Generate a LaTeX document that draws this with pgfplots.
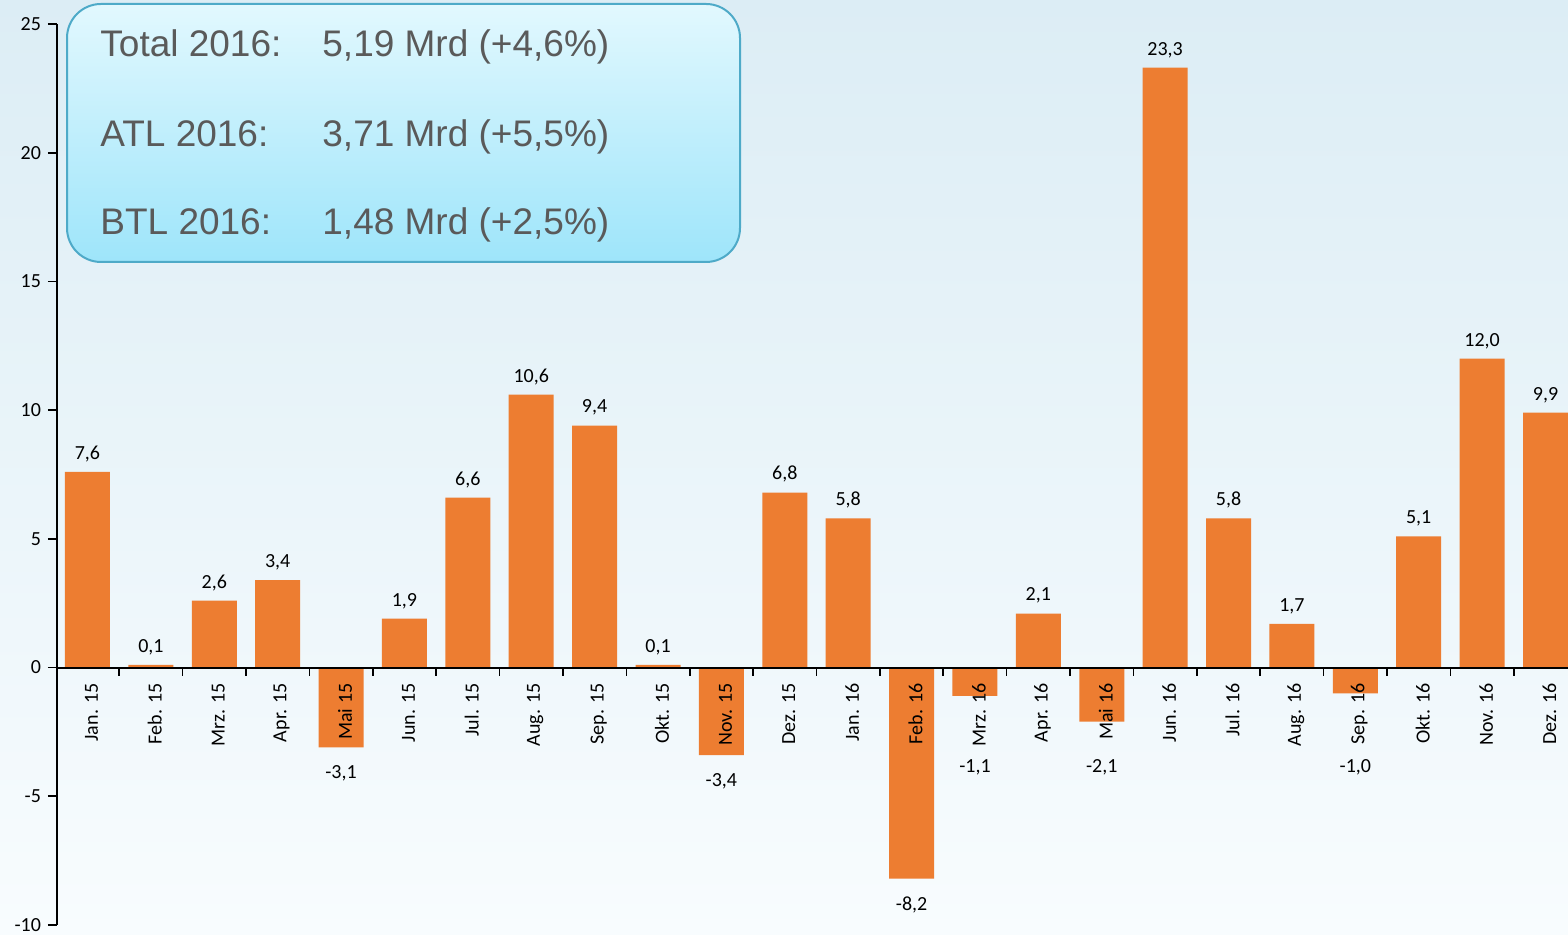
\documentclass[border=0pt]{standalone}
\usepackage{pgfplots}
\pgfplotsset{compat=1.18}
\usepackage{fontspec}
\setmainfont{Carlito}
\newfontfamily\boxfont{Liberation Sans}
\definecolor{barorange}{RGB}{237,125,49}
\definecolor{bgtop}{RGB}{220,237,245}
\definecolor{bgbot}{RGB}{248,252,254}
\definecolor{boxtop}{RGB}{226,248,254}
\definecolor{boxbot}{RGB}{158,229,250}
\definecolor{boxedge}{RGB}{78,170,200}
\definecolor{boxtext}{RGB}{90,90,90}
\begin{document}
\begin{tikzpicture}
\useasboundingbox (-28.5pt,-5pt) rectangle (755.5pt,462.5pt);
\shade[top color=bgtop, bottom color=bgbot] (-28.5pt,-5pt) rectangle (755.5pt,462.5pt);
\begin{axis}[
  at={(0,0)}, anchor=south west,
  scale only axis, width=755.5pt, height=450.5pt,
  xmin=-0.481, xmax=23.355, ymin=-10, ymax=25,
  axis y line=left, axis x line=middle,
  axis line style={-, line width=1pt, black},
  x axis line style={-}, y axis line style={-},
  hide obscured x ticks=false, hide obscured y ticks=false,
  axis on top,
  ytick={-10,-5,...,25},
  xtick={0,...,23},
  xticklabels={Jan. 15, Feb. 15, Mrz. 15, Apr. 15, Mai 15, Jun. 15, Jul. 15, Aug. 15, Sep. 15, Okt. 15, Nov. 15, Dez. 15, Jan. 16, Feb. 16, Mrz. 16, Apr. 16, Mai 16, Jun. 16, Jul. 16, Aug. 16, Sep. 16, Okt. 16, Nov. 16, Dez. 16},
  minor xtick={0.5,1.5,...,22.5},
  every major x tick/.style={draw=none},
  every minor x tick/.append style={black, line width=0.8pt},
  every major y tick/.append style={black, line width=0.8pt},
  tick align=outside,
  major tick length=4.5pt, minor tick length=4pt,
  xticklabel style={rotate=90, anchor=east, font=\fontsize{10}{12}\selectfont, yshift=-2pt},
  yticklabel style={font=\fontsize{10}{12}\selectfont},
  /pgf/number format/assume math mode=true,
  ybar, bar width=0.71,
  nodes near coords={\pgfmathprintnumber[fixed,fixed zerofill,precision=1,use comma,assume math mode=true]{\pgfplotspointmeta}},
  nodes near coords align=vertical,
  visualization depends on={rawy \as \rawy},
  every node near coord/.append style={font=\fontsize{10}{12}\selectfont, black, yshift={ifthenelse(\rawy<0,-5.5-12.871*max(0,2.86+\rawy),1.5)}},
]
\addplot[fill=barorange, draw=none] coordinates {
(0,7.6) (1,0.1) (2,2.6) (3,3.4) (4,-3.1) (5,1.9) (6,6.6) (7,10.6) (8,9.4) (9,0.1) (10,-3.4) (11,6.8)
(12,5.8) (13,-8.2) (14,-1.1) (15,2.1) (16,-2.1) (17,23.3) (18,5.8) (19,1.7) (20,-1.0) (21,5.1) (22,12.0) (23,9.9)
};
\end{axis}
\draw[boxedge, line width=1pt, rounded corners=17pt, top color=boxtop, bottom color=boxbot] (5pt,331.5pt) rectangle (341.5pt,460.5pt);
\begin{scope}[every node/.style={anchor=base west, inner sep=0pt, text=boxtext, font=\boxfont\fontsize{18.5}{22}\selectfont}]
\node at (21.5pt,434pt) {Total 2016:};
\node at (132.5pt,434pt) {5,19 Mrd (+4,6\%)};
\node at (21.5pt,389pt) {ATL 2016:};
\node at (132.5pt,389pt) {3,71 Mrd (+5,5\%)};
\node at (21.5pt,345pt) {BTL 2016:};
\node at (132.5pt,345pt) {1,48 Mrd (+2,5\%)};
\end{scope}
\end{tikzpicture}
\end{document}
